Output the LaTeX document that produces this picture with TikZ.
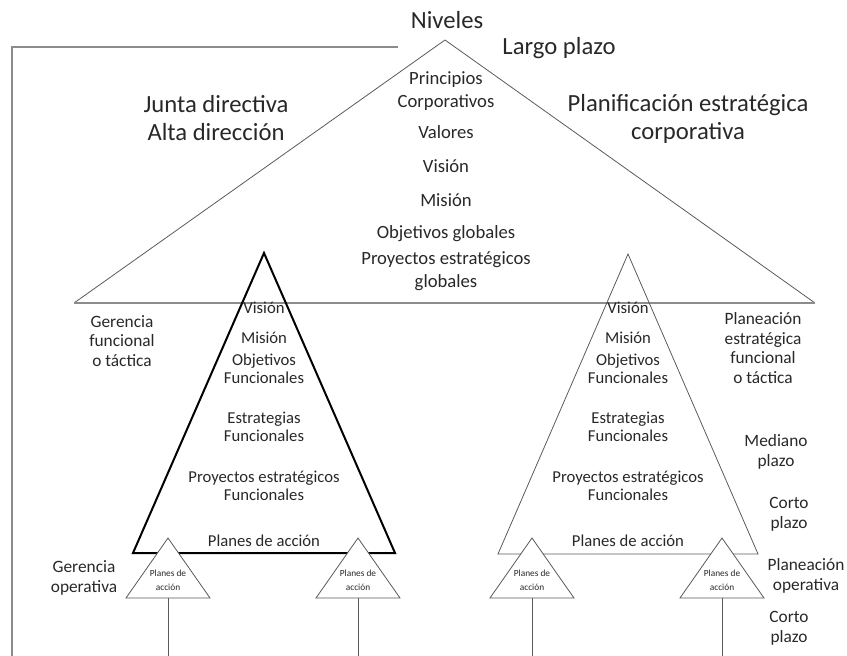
\documentclass[tikz,border=0pt]{standalone}
\usepackage{fontspec}
\setmainfont{Carlito}
\usepackage{xcolor}
\usetikzlibrary{positioning,calc}

\definecolor{inkgray}{RGB}{40,40,40}
\definecolor{linegray}{RGB}{90,90,90}
\definecolor{basegray}{RGB}{140,140,140}

\begin{document}
\begin{tikzpicture}[
      x=0.75pt, y=-0.75pt,
      bigtxt/.style={align=center, font=\fontsize{18.5}{21}\selectfont, text=inkgray, inner sep=0pt},
      toptxt/.style={align=center, font=\fontsize{14}{17}\selectfont, text=inkgray, inner sep=0pt},
      midtxt/.style={align=center, font=\fontsize{12.5}{13.5}\selectfont, text=inkgray, inner sep=0pt},
      sidetxt/.style={align=center, font=\fontsize{13}{14.8}\selectfont, text=inkgray, inner sep=0pt},
      tinytxt/.style={align=center, font=\fontsize{7}{10.5}\selectfont, text=inkgray, inner sep=0pt},
      thinline/.style={draw=linegray, line width=0.6pt},
      boldline/.style={draw=black, line width=1.5pt, line join=miter},
      link/.style={draw=linegray, line width=0.6pt}
  ]
    \useasboundingbox (0,0) rectangle (847,656);
    % corner points of the triangles
    \coordinate (top) at (445,40);
    \coordinate (topL) at (74,303);
    \coordinate (topR) at (815,303);
    \coordinate (fL) at (264,253);
    \coordinate (fLa) at (133,553);
    \coordinate (fLb) at (395,553);
    \coordinate (fR) at (628,254);
    \coordinate (fRa) at (498,554);
    \coordinate (fRb) at (758,554);
    % bracket on the left
    \coordinate (br1) at (398,47);
    \coordinate (br2) at (12,47);
    \coordinate (br3) at (12,656);
    \draw[draw=basegray, line width=1.8pt] (br1) -- (br2) -- (br3);
    % big triangle
    \draw[thinline] (topL) -- (top) -- (topR);
    \draw[draw=basegray, line width=0.9pt] (topL) -- (topR);
    % functional triangles
    \draw[boldline] (fLa) -- (fL) -- (fLb) -- cycle;
    \draw[thinline] (fRa) -- (fR) -- (fRb) -- cycle;
    % operative triangles and their lines
    \foreach \n/\cx in {1/168, 2/358, 3/532, 4/722}{
      \coordinate (op\n) at (\cx,538);
      \coordinate (op\n a) at (\cx-42,598);
      \coordinate (op\n b) at (\cx+42,598);
      \coordinate (op\n m) at (\cx,598);
      \coordinate (op\n e) at (\cx,656);
      \draw[thinline, fill=white] (op\n a) -- (op\n) -- (op\n b) -- cycle;
      \node[tinytxt] (pa\n) at (\cx,580) {Planes de\\acción};
      \draw[link] (op\n m) -- (op\n e);
    }
    % top
    \node[bigtxt] (niv) at (447,20) {Niveles};
    \node[bigtxt] (lp) at (559,48) {Largo plazo};
    \node[bigtxt] (junta) at (216,118) {Junta directiva\\Alta dirección};
    \node[bigtxt] (plan) at (688,119) {Planificación estratégica\\corporativa};
    % inside the big triangle
    \node[toptxt] (pc) at (446,91) {Principios\\Corporativos};
    \node[toptxt] (val) at (446,132) {Valores};
    \node[toptxt] (vis) at (446,166) {Visión};
    \node[toptxt] (mis) at (446,200) {Misión};
    \node[toptxt] (obg) at (446,234) {Objetivos globales};
    \node[toptxt] (peg) at (446,271) {Proyectos estratégicos\\globales};
    % inside the functional triangles
    \foreach \s/\cx in {L/264, R/628}{
      \node[midtxt] (vis\s) at (\cx,308) {Visión};
      \node[midtxt] (mis\s) at (\cx,338) {Misión};
      \node[midtxt] (obj\s) at (\cx,369) {Objetivos\\Funcionales};
      \node[midtxt] (est\s) at (\cx,427) {Estrategias\\Funcionales};
      \node[midtxt] (pro\s) at (\cx,486) {Proyectos estratégicos\\Funcionales};
      \node[midtxt] (pla\s) at (\cx,541) {Planes de acción};
    }
    % side labels
    \node[sidetxt] (gft) at (122,341) {Gerencia\\funcional\\o táctica};
    \node[sidetxt] (pef) at (763,348) {Planeación\\estratégica\\funcional\\o táctica};
    \node[sidetxt] (mp) at (776,452) {Mediano\\plazo};
    \node[sidetxt] (cp1) at (789,514) {Corto\\plazo};
    \node[sidetxt] (go) at (84,578) {Gerencia\\operativa};
    \node[sidetxt] (po) at (806,576) {Planeación\\operativa};
    \node[sidetxt] (cp2) at (789,628) {Corto\\plazo};
  \end{tikzpicture}
\end{document}
